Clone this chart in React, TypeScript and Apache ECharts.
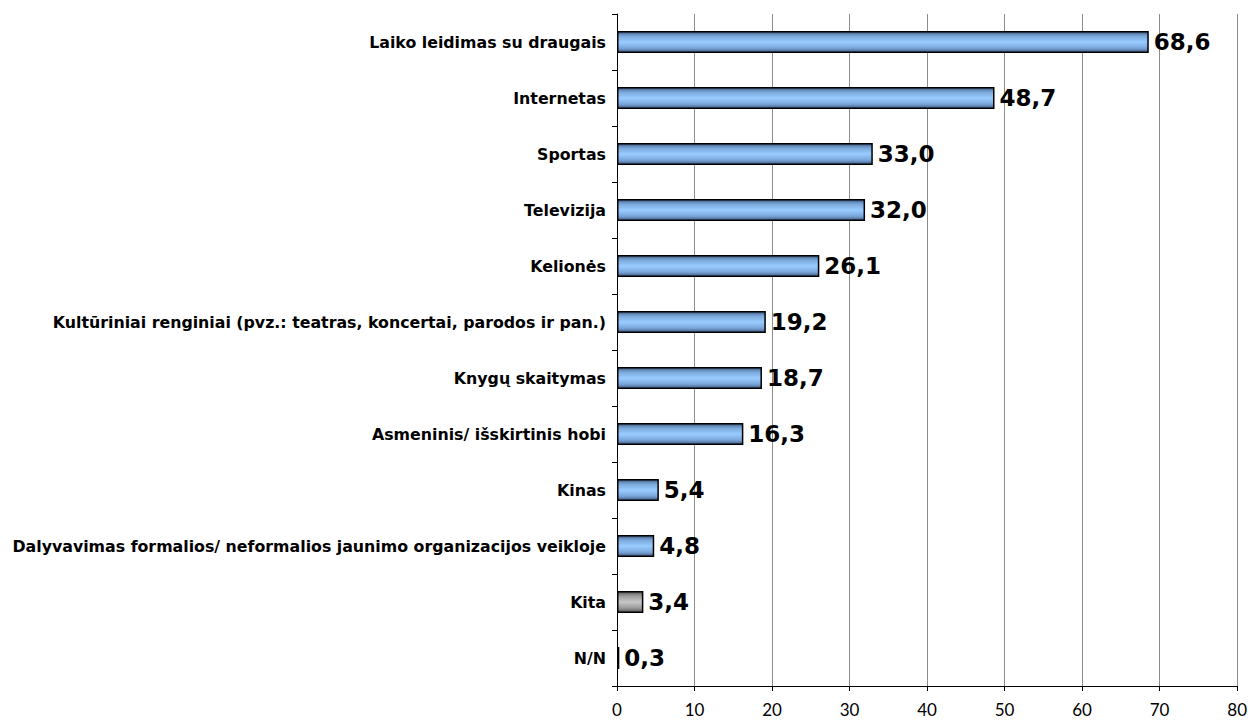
import React, { useEffect, useRef } from "react";
import * as echarts from "echarts";

const categories: string[] = [
  "Laiko leidimas su draugais",
  "Internetas",
  "Sportas",
  "Televizija",
  "Kelionės",
  "Kultūriniai renginiai (pvz.: teatras, koncertai, parodos ir pan.)",
  "Knygų skaitymas",
  "Asmeninis/ išskirtinis hobi",
  "Kinas",
  "Dalyvavimas formalios/ neformalios jaunimo organizacijos veikloje",
  "Kita",
  "N/N",
];
const values: number[] = [68.6, 48.7, 33.0, 32.0, 26.1, 19.2, 18.7, 16.3, 5.4, 4.8, 3.4, 0.3];
const grayCategories: string[] = ["Kita"];
const xTicks = { min: 0, max: 80, interval: 10 };

const blueGrad = () =>
  new echarts.graphic.LinearGradient(0, 0, 0, 1, [
    { offset: 0, color: "#3f5a80" },
    { offset: 0.2, color: "#7aa6d9" },
    { offset: 0.5, color: "#99ccff" },
    { offset: 0.8, color: "#7aa6d9" },
    { offset: 1, color: "#3f5a80" },
  ]);
const grayGrad = () =>
  new echarts.graphic.LinearGradient(0, 0, 0, 1, [
    { offset: 0, color: "#555555" },
    { offset: 0.2, color: "#999999" },
    { offset: 0.5, color: "#c8c8c8" },
    { offset: 0.8, color: "#999999" },
    { offset: 1, color: "#555555" },
  ]);

export default function App() {
  const ref = useRef<HTMLDivElement>(null);
  useEffect(() => {
    if (!ref.current) return;
    const chart = echarts.init(ref.current, undefined, { renderer: "svg" });
    chart.setOption({
      animation: false,
      backgroundColor: "#ffffff",
      grid: { left: 617, right: 11, top: 14, bottom: 34, containLabel: false },
      xAxis: {
        type: "value",
        min: xTicks.min,
        max: xTicks.max,
        interval: xTicks.interval,
        axisLine: { show: true, lineStyle: { color: "#000", width: 1 } },
        axisTick: { show: true, length: 5, lineStyle: { color: "#000" } },
        axisLabel: { color: "#000", fontFamily: "Lato", fontSize: 17, margin: 15 },
        splitLine: { show: true, lineStyle: { color: "#8c8c8c", width: 1 } },
      },
      yAxis: {
        type: "category",
        inverse: true,
        data: categories,
        axisLine: { show: true, lineStyle: { color: "#000", width: 1 } },
        axisTick: { show: true, length: 5, lineStyle: { color: "#000" } },
        axisLabel: {
          color: "#000",
          fontFamily: "DejaVu Sans",
          fontWeight: "bold",
          fontSize: 15.8,
          margin: 11,
        },
      },
      series: [
        {
          type: "bar",
          barWidth: 22,
          data: values.map((v, i) => ({
            value: v,
            itemStyle: {
              color: grayCategories.includes(categories[i]) ? grayGrad() : blueGrad(),
              borderColor: "#000",
              borderWidth: 1.5,
            },
          })),
          label: {
            show: true,
            position: "right",
            distance: 5,
            color: "#000",
            fontFamily: "DejaVu Sans",
            fontWeight: "bold",
            fontSize: 23,
            formatter: (p: any) => Number(p.value).toFixed(1).replace(".", ","),
          },
        },
      ],
    });
    return () => chart.dispose();
  }, []);
  return <div ref={ref} style={{ width: 1250, height: 720, position: "absolute", left: 0, top: 0 }} />;
}
